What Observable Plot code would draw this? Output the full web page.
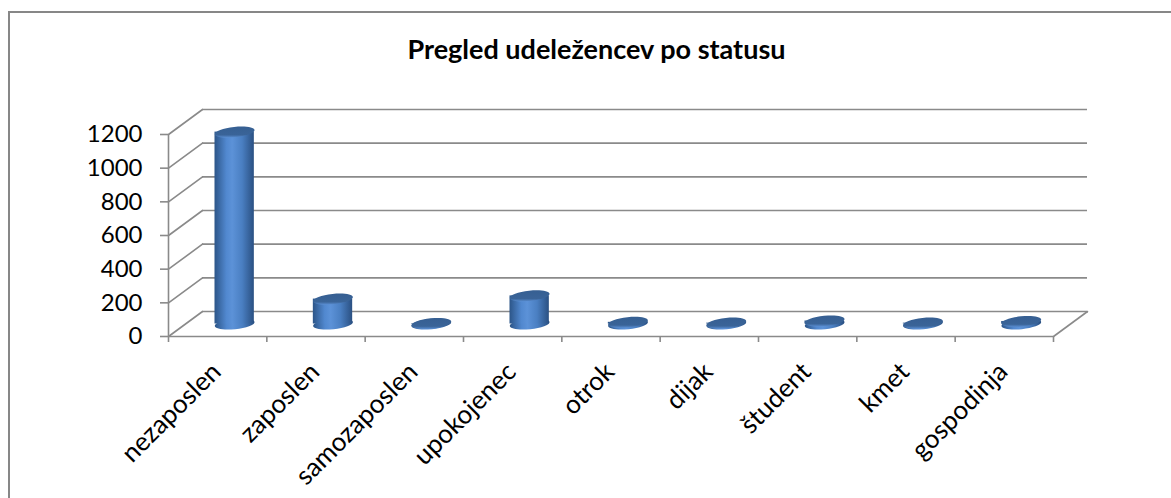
<!DOCTYPE html>
<html>
<head>
<meta charset="utf-8">
<script src="https://cdn.jsdelivr.net/npm/d3@7"></script>
<script src="https://cdn.jsdelivr.net/npm/@observablehq/plot@0.6"></script>
<style>
  html, body { margin: 0; padding: 0; background: #fff; }
  #frame { position: absolute; left: 8px; top: 11px; width: 1200px; height: 520px;
           border-left: 2px solid #878787; border-top: 2px solid #878787; }
  #title { position: absolute; left: 9px; width: 1175px; top: 34px; text-align: center;
           font-family: Lato, "Open Sans", sans-serif; font-weight: bold; font-size: 27px;
           line-height: 30px; color: #000; }
  #chart { position: absolute; left: 0; top: 90px; }
</style>
</head>
<body>
<div id="frame"></div>
<div id="title">Pregled udeležencev po statusu</div>
<div id="chart"></div>
<script>
// ---- data ----
const categories = ["nezaposlen", "zaposlen", "samozaposlen", "upokojenec", "otrok", "dijak", "študent", "kmet", "gospodinja"];
const values = [1140, 148, 3, 167, 10, 5, 18, 5, 15];
const yTicks = [0, 200, 400, 600, 800, 1000, 1200];

const data = categories.map((c, i) => ({ c, i, v: values[i] }));
const boundaries = d3.range(categories.length + 1);
const centers = categories.map((c, i) => i + 0.5);

// ---- styles ----
const GRID = "#8a8a8a";
const DEPTH_DX = 34, DEPTH_DY = -25;
const CYL_DX = DEPTH_DX / 2, CYL_DY = DEPTH_DY / 2;
const DEPTH_LEN = Math.hypot(DEPTH_DX, DEPTH_DY);
const DEPTH_ANGLE = Math.atan2(DEPTH_DX, -DEPTH_DY) * 180 / Math.PI;

const lineShape = { draw(ctx, l) { ctx.moveTo(0, 0); ctx.lineTo(0, -l); } };

const tilt = -6 * Math.PI / 180;
const ellipse = {
  draw(ctx, size) {
    const rx = Math.sqrt(size / Math.PI), ry = rx * 0.26, k = 0.5523;
    const c = Math.cos(tilt), s = Math.sin(tilt);
    const p = (x, y) => [x * c - y * s, x * s + y * c];
    const m = (...a) => a.flatMap(([x, y]) => p(x, y));
    ctx.moveTo(...p(-rx, 0));
    ctx.bezierCurveTo(...m([-rx, -ry * k], [-rx * k, -ry], [0, -ry]));
    ctx.bezierCurveTo(...m([rx * k, -ry], [rx, -ry * k], [rx, 0]));
    ctx.bezierCurveTo(...m([rx, ry * k], [rx * k, ry], [0, ry]));
    ctx.bezierCurveTo(...m([-rx * k, ry], [-rx, ry * k], [-rx, 0]));
    ctx.closePath();
  }
};

const chart = Plot.plot({
  width: 1171,
  height: 408,
  marginLeft: 168,
  marginRight: 118,
  marginTop: 44,
  marginBottom: 162,
  style: { fontFamily: "Lato, 'Open Sans', sans-serif", fontSize: "24px", color: "#000", background: "transparent", overflow: "visible" },
  x: { type: "linear", domain: [0, categories.length] },
  y: { domain: [0, 1200] },
  marks: [
    // back wall gridlines
    Plot.ruleY(yTicks, { x1: 0, x2: categories.length, dx: DEPTH_DX, dy: DEPTH_DY, stroke: GRID, strokeWidth: 1.6 }),
    // side wall diagonals
    Plot.vector(yTicks, { x: 0, y: d => d, length: DEPTH_LEN, rotate: DEPTH_ANGLE, anchor: "start", shape: lineShape, stroke: GRID, strokeWidth: 1.6 }),
    // right floor diagonal
    Plot.vector([0], { x: categories.length, y: d => d, length: DEPTH_LEN, rotate: DEPTH_ANGLE, anchor: "start", shape: lineShape, stroke: GRID, strokeWidth: 1.6 }),
    // front floor edge and front value axis line
    Plot.ruleY([0], { x1: 0, x2: categories.length, stroke: GRID, strokeWidth: 1.6 }),
    Plot.ruleX([0], { y1: 0, y2: 1200, stroke: GRID, strokeWidth: 1.6 }),
    // axes
    Plot.axisY(yTicks, { label: null, tickFormat: d => String(d), tickSize: 8, tickPadding: 18, stroke: GRID, strokeWidth: 1.6, fontSize: 24 }),
    Plot.axisX(boundaries, { label: null, tickSize: 6, tickFormat: () => "", stroke: GRID, strokeWidth: 1.6 }),
    Plot.axisX(centers, { label: null, tickSize: 0, tickRotate: -45, tickPadding: 14, fontSize: 26, textAnchor: "end",
      dx: -1, dy: 17, tickFormat: d => categories[Math.floor(d)] }),
    // cylinders
    Plot.dot(data, { x: d => d.i + 0.5, y: 0, dx: CYL_DX, dy: CYL_DY, r: 20, symbol: ellipse, fill: "url(#cylBody)", stroke: "none" }),
    Plot.rectY(data, { x1: d => d.i + 0.3, x2: d => d.i + 0.7, y1: 0, y2: "v", dx: CYL_DX, dy: CYL_DY, fill: "url(#cylBody)" }),
    Plot.dot(data, { x: d => d.i + 0.5, y: "v", dx: CYL_DX, dy: CYL_DY, r: 20, symbol: ellipse, fill: "url(#cylTop)", stroke: "none" })
  ]
});

// gradients for the cylinder shading
const svgSel = d3.select(chart);
const defs = svgSel.insert("defs", ":first-child");
const bodyGrad = defs.append("linearGradient").attr("id", "cylBody").attr("x1", "0").attr("x2", "1").attr("y1", "0").attr("y2", "0");
[["0%", "#2c5588"], ["30%", "#5188cf"], ["45%", "#5c92d8"], ["70%", "#4a7fc2"], ["100%", "#2a5082"]]
  .forEach(([o, c]) => bodyGrad.append("stop").attr("offset", o).attr("stop-color", c));
const topGrad = defs.append("linearGradient").attr("id", "cylTop").attr("x1", "0").attr("x2", "0").attr("y1", "0").attr("y2", "1");
[["0%", "#365f92"], ["75%", "#3a6498"], ["100%", "#5a8ed2"]]
  .forEach(([o, c]) => topGrad.append("stop").attr("offset", o).attr("stop-color", c));

document.getElementById("chart").appendChild(chart);
</script>
</body>
</html>
